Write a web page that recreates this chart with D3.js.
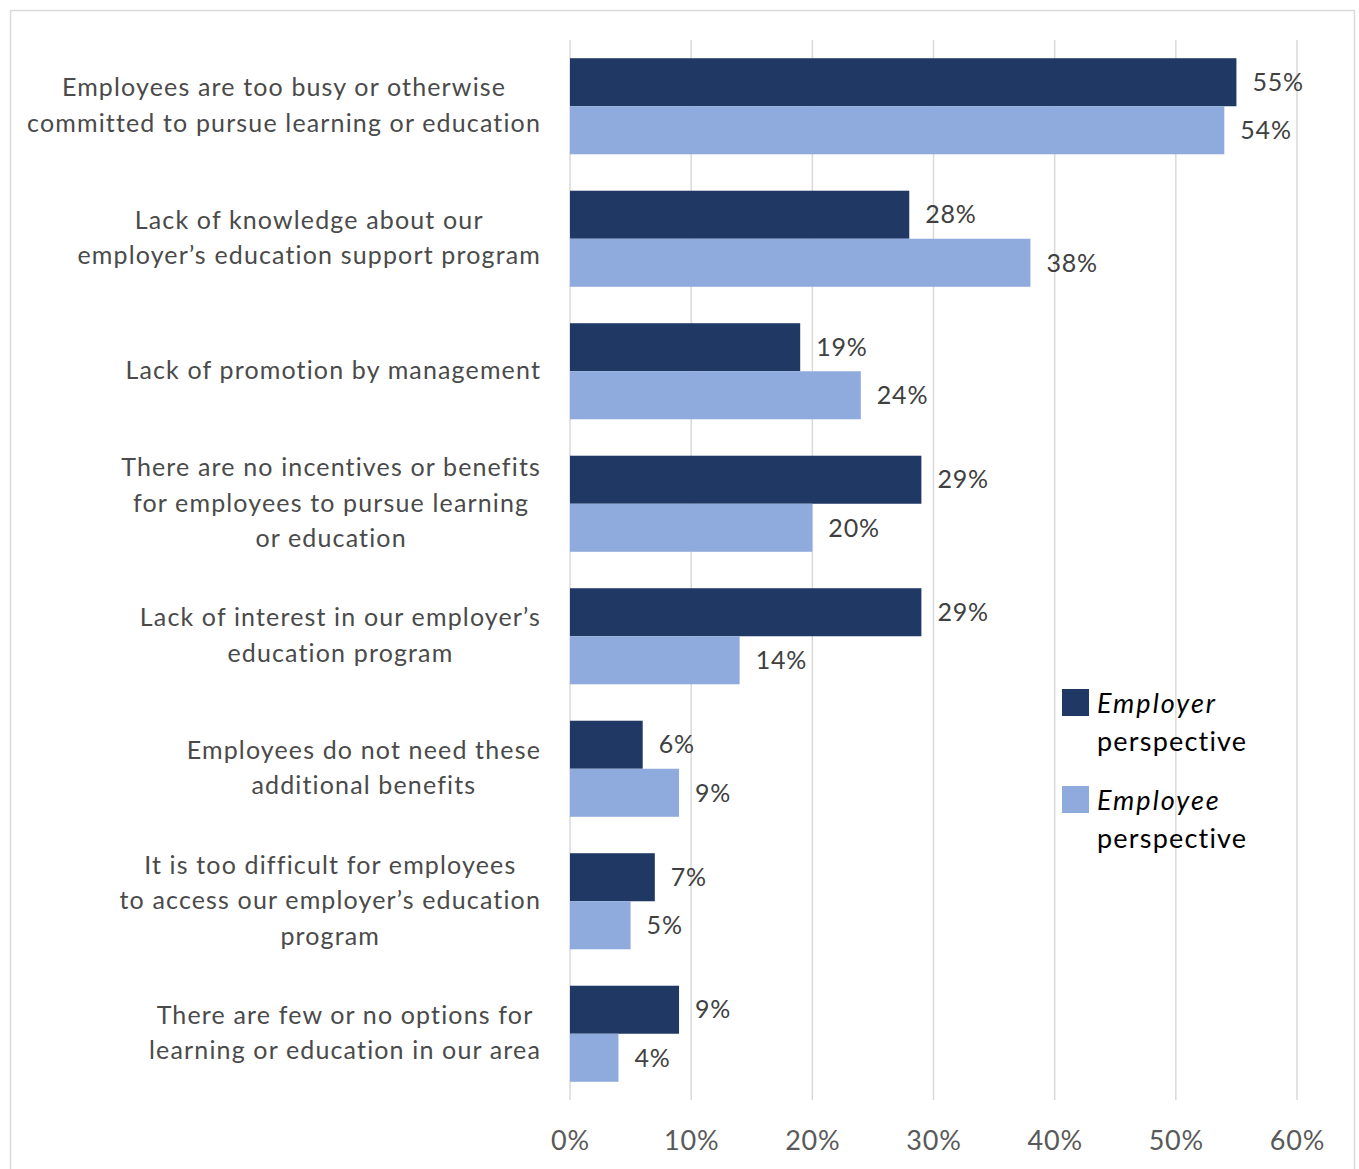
<!DOCTYPE html>
<html>
<head>
<meta charset="utf-8">
<script src="https://cdn.jsdelivr.net/npm/d3@7"></script>
<style>
  html, body { margin: 0; padding: 0; background: #fff; }
  svg { display: block; }
</style>
</head>
<body>
<svg id="chart" width="1359" height="1169"></svg>
<script>
// Reasons employees do not use education support, two perspectives
const categories = [
  ["Employees are too busy or otherwise", "committed to pursue learning or education"],
  ["Lack of knowledge about our", "employer\u2019s education support program"],
  ["Lack of promotion by management"],
  ["There are no incentives or benefits", "for employees to pursue learning", "or education"],
  ["Lack of interest in our employer\u2019s", "education program"],
  ["Employees do not need these", "additional benefits"],
  ["It is too difficult for employees", "to access our employer\u2019s education", "program"],
  ["There are few or no options for", "learning or education in our area"]
];
const employerValues = [55, 28, 19, 29, 29, 6, 7, 9];
const employeeValues = [54, 38, 24, 20, 14, 9, 5, 4];
const seriesNames = [["Employer", "perspective"], ["Employee", "perspective"]];
const xTicks = [0, 10, 20, 30, 40, 50, 60];

const colors = ["#203864", "#8FAADC"];
const font = "Lato, 'Open Sans', sans-serif";

const svg = d3.select("#chart");

// outer frame
svg.append("rect")
  .attr("x", 10.5).attr("y", 10.5)
  .attr("width", 1344).attr("height", 1200)
  .attr("fill", "none").attr("stroke", "#D9D9D9").attr("stroke-width", 1.5);

const plot = { left: 570, right: 1297, top: 40, bottom: 1100 };

const x = d3.scaleLinear().domain([0, 60]).range([plot.left, plot.right]);
const y = d3.scaleBand().domain(d3.range(categories.length))
  .range([plot.top, plot.bottom]).paddingInner(0.275).paddingOuter(0.1375);
const sub = d3.scaleBand().domain([0, 1]).range([0, y.bandwidth()]);

// vertical gridlines
svg.append("g").selectAll("line").data(xTicks).join("line")
  .attr("x1", d => x(d)).attr("x2", d => x(d))
  .attr("y1", plot.top).attr("y2", plot.bottom)
  .attr("stroke", "#D9D9D9").attr("stroke-width", 1.5);

// x axis labels
const xAxis = d3.axisBottom(x).tickValues(xTicks).tickFormat(d => d + "%").tickSize(0).tickPadding(0);
const gx = svg.append("g").attr("transform", `translate(0,${plot.bottom + 31})`).call(xAxis);
gx.select(".domain").remove();
gx.selectAll("text")
  .attr("font-family", font).attr("font-size", 27).attr("letter-spacing", 0.8)
  .attr("fill", "#595959");

// bars
const series = [employerValues, employeeValues];
series.forEach((vals, s) => {
  const g = svg.append("g");
  g.selectAll("rect").data(vals).join("rect")
    .attr("x", x(0))
    .attr("y", (d, i) => y(i) + sub(s))
    .attr("width", d => x(d) - x(0))
    .attr("height", sub.bandwidth())
    .attr("fill", colors[s]);
  g.selectAll("text").data(vals).join("text")
    .attr("x", d => x(d) + 16)
    .attr("y", (d, i) => y(i) + sub(s) + sub.bandwidth() / 2)
    .attr("dy", "0.35em")
    .attr("font-family", font).attr("font-size", 25).attr("letter-spacing", 0.8)
    .attr("fill", "#404040")
    .text(d => d + "%");
});

// category labels: centered lines, block right-aligned to the axis
const labelRight = 541;
const lineH = 35.5;
const catG = svg.append("g");
categories.forEach((lines, i) => {
  const t = catG.append("text")
    .attr("font-family", font).attr("font-size", 25).attr("letter-spacing", 1.15)
    .attr("fill", "#4A4A4A")
    .attr("text-anchor", "middle");
  const cy = y(i) + y.bandwidth() / 2;
  const spans = lines.map((ln, k) => t.append("tspan")
    .attr("y", cy + (k - (lines.length - 1) / 2) * lineH - 1)
    .attr("dy", "0.35em")
    .text(ln));
  const maxW = d3.max(spans, sp => sp.node().getComputedTextLength());
  spans.forEach(sp => sp.attr("x", labelRight - maxW / 2));
});

// legend
const legend = svg.append("g");
const legTop = [689, 786];
seriesNames.forEach((nm, s) => {
  legend.append("rect")
    .attr("x", 1062).attr("y", legTop[s])
    .attr("width", 27).attr("height", 27)
    .attr("fill", colors[s]);
  const t = legend.append("text")
    .attr("font-family", font).attr("font-size", 27).attr("fill", "#000");
  t.append("tspan").attr("x", 1097).attr("y", legTop[s] + 24)
    .attr("font-style", "italic").attr("letter-spacing", 2).text(nm[0]);
  t.append("tspan").attr("x", 1097).attr("y", legTop[s] + 62)
    .attr("letter-spacing", 1.2).text(nm[1]);
});
</script>
</body>
</html>
